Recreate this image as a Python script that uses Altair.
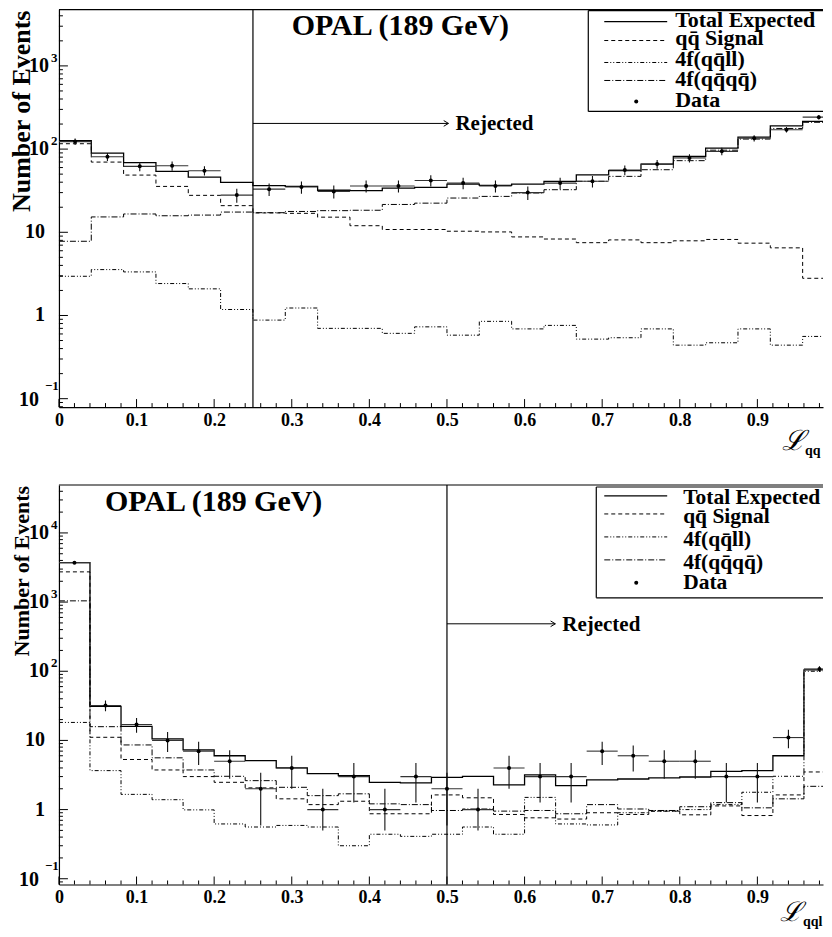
import altair as alt
import numpy as np
import pandas as pd

FONT = "Liberation Serif"
W = 765                # plot width that still fits the 816 px wide page body
XMAX = W / 777.0       # x = 1 would sit 777 px right of x = 0 (cut off by the page)

# ---------------- top panel (L_qqqq), 24 bins ----------------
top_total = [126, 89.5, 68.7, 54, 46, 39.8, 36.4, 35.7, 32, 31.6, 34, 34.7,
             38, 36.6, 38, 41, 49, 55, 66, 81.5, 103, 139, 190, 215]
top_signal = [116, 69.8, 48.7, 35.6, 27.8, 20.9, 17.1, 16.9, 15.2, 12.0, 10.8, 10.8,
              10.3, 10.1, 8.8, 8.3, 7.5, 8.1, 7.5, 7.9, 8.2, 7.4, 6.5, 2.8]
top_qqll = [2.96, 3.56, 3.34, 2.42, 2.09, 1.18, 0.88, 1.23, 0.70, 0.70, 0.61, 0.73,
            0.58, 0.85, 0.69, 0.76, 0.52, 0.54, 0.69, 0.44, 0.47, 0.69, 0.44, 0.56]
top_qqqq = [7.8, 15.3, 16.6, 15.8, 16.1, 17.5, 17.2, 17.8, 18.2, 18.4, 21.6, 22.4,
            25.8, 27.0, 29.7, 32.5, 41, 47, 56.5, 72.6, 97, 132, 177, 210]
top_data = [123, 81, 62, 63, 55, 28, 33, 35, 31, 36, 36, 42,
            39, 36, 30, 39, 41, 56, 66, 78, 94, 135, 171, 242]
top_lo = [112, 72, 54, 55, 48, 22.7, 27.3, 29.1, 25.4, 30, 30, 35.5,
          32.8, 30, 24.5, 32.8, 34.6, 48.5, 57.9, 69.2, 84.3, 123.4, 157.9, 226.4]
top_hi = [134, 90, 70, 71, 62, 33.3, 38.7, 40.9, 36.6, 42, 42, 48.5,
          45.2, 42, 35.5, 45.2, 47.4, 63.5, 74.1, 86.8, 103.7, 146.6, 184.1, 257.6]

# ---------------- bottom panel (L_qqlnu), 25 bins ----------------
bot_total = [3720, 31, 16, 10.5, 7.3, 6.0, 5.1, 4.0, 3.3, 3.1, 2.48, 2.43, 2.93,
             3.03, 2.27, 3.17, 2.22, 2.68, 2.77, 2.87, 2.96, 3.57, 3.66, 6.0, 105]
bot_signal = [2735, 11.1, 5.3, 3.74, 3.0, 2.48, 2.06, 1.43, 1.18, 1.32, 0.87, 0.87, 1.63,
              1.48, 0.85, 0.76, 0.73, 0.9, 0.85, 0.95, 0.84, 1.13, 0.82, 1.63, 3.5]
bot_qqll = [18.2, 3.66, 1.66, 1.39, 0.99, 0.62, 0.56, 0.59, 0.56, 0.30, 0.44, 0.41, 0.44,
            0.56, 0.44, 1.5, 0.62, 0.60, 0.9, 0.95, 1.0, 1.18, 1.78, 3.03, 100]
bot_qqqq = [1042, 15.8, 8.6, 5.6, 3.74, 3.03, 2.62, 2.1, 1.59, 1.69, 1.21, 1.18, 0.97,
            1.02, 0.95, 0.97, 0.87, 1.18, 1.02, 0.97, 1.1, 1.26, 1.06, 1.43, 2.17]
bot_data = [3720, 32, 17, 10, 7, 5, 2, 4, 1, 3, 1, 3, 2,
            1, 4, 3, 3, 7, 6, 5, 5, 3, 3, 11, 108]
bot_lo = [3660, 26.3, 12.9, 6.8, 4.4, 2.8, 0.59, 2.0, 0.5, 1.27, 0.5, 1.27, 0.59,
          0.5, 2.0, 1.27, 1.27, 4.4, 3.55, 2.8, 2.8, 1.27, 1.27, 7.7, 97.6]
bot_hi = [3780, 37.7, 21.1, 13.2, 9.6, 7.2, 3.4, 6.0, 2.0, 4.7, 2.0, 4.7, 3.4,
          2.0, 6.0, 4.7, 4.7, 9.6, 8.45, 7.2, 7.2, 4.7, 4.7, 14.3, 118.4]

CUTS = [0.25, 0.5]
X_LABELS = [0, 0.1, 0.2, 0.3, 0.4, 0.5, 0.6, 0.7, 0.8, 0.9]
X_MINOR = [round(i * 0.02, 2) for i in range(50) if i % 5 != 0]

LEGEND_TEXT = ["Total Expected", "qq\u0304 Signal", "4f(qq\u0304ll)", "4f(qq\u0304qq\u0304)", "Data"]

DASH_SIGNAL = [4, 3]
DASH_QQLL = [4, 2, 1, 2, 1, 2]
DASH_QQQQ = [6, 2, 1, 2]

ONE = pd.DataFrame({"d": [0]})
ZW = "\u200b"


def panel(H, ydom, total, signal, qqll, qqqq, data, lo, hi, cut, cfg):
    xs = alt.Scale(domain=[0, XMAX], nice=False, zero=False)
    ys = alt.Scale(type="log", domain=ydom, nice=False)
    xaxis = alt.Axis(values=X_LABELS,
                     labelExpr="datum.value == 0 ? '0' : format(datum.value, '.1f')",
                     ticks=False, domain=True, domainColor="black", domainWidth=1.2,
                     grid=False, title=None, labelFont=FONT, labelFontSize=18,
                     labelFontWeight="bold", labelColor="black", labelPadding=4,
                     labelFlush=False, labelOverlap=False)
    yaxis = alt.Axis(labels=False, ticks=False, domain=True, domainColor="black",
                     domainWidth=1.2, grid=False, title=None)

    def X(f):
        return alt.X(f, type="quantitative", scale=xs, axis=xaxis)

    def Y(f):
        return alt.Y(f, type="quantitative", scale=ys, axis=yaxis)

    layers = []
    # histograms as steps
    for vals, dash, sw in [(qqll, DASH_QQLL, 1.0), (qqqq, DASH_QQQQ, 1.0),
                           (signal, DASH_SIGNAL, 1.0), (total, None, 1.3)]:
        n = len(vals)
        df = pd.DataFrame({"x": np.linspace(0, 1, n + 1), "y": list(vals) + [vals[-1]]})
        kw = dict(interpolate="step-after", clip=True, color="black", strokeWidth=sw)
        if dash:
            kw["strokeDash"] = dash
        layers.append(alt.Chart(df).mark_line(**kw).encode(x=X("x"), y=Y("y")))

    # data with error bars
    n = len(data)
    idx = np.arange(n)
    ddf = pd.DataFrame({"xc": (idx + 0.5) / n, "x0": idx / n, "x1": (idx + 1) / n,
                        "n": data, "lo": lo, "hi": hi})
    layers.append(alt.Chart(ddf).mark_rule(color="#111", strokeWidth=1.1, clip=True)
                  .encode(x=X("xc"), y=Y("lo"), y2="hi"))
    layers.append(alt.Chart(ddf).mark_rule(color="#333", strokeWidth=1.1, clip=True)
                  .encode(x=X("x0"), x2="x1", y=Y("n")))
    layers.append(alt.Chart(ddf).mark_circle(color="black", size=16, opacity=1, clip=True)
                  .encode(x=X("xc"), y=Y("n")))

    # ticks (inside)
    layers.append(alt.Chart(pd.DataFrame({"v": X_LABELS})).mark_rule(color="black")
                  .encode(x=X("v"), y=alt.value(H), y2=alt.value(H - 8)))
    layers.append(alt.Chart(pd.DataFrame({"v": X_MINOR})).mark_rule(color="black")
                  .encode(x=X("v"), y=alt.value(H), y2=alt.value(H - 4)))
    ymaj = [10.0 ** e for e in range(-1, 6) if ydom[0] <= 10.0 ** e <= ydom[1]]
    ymin = [m * 10.0 ** e for e in range(-2, 6) for m in range(2, 10)
            if ydom[0] <= m * 10.0 ** e <= ydom[1]]
    layers.append(alt.Chart(pd.DataFrame({"v": ymaj})).mark_rule(color="black")
                  .encode(y=Y("v"), x=alt.value(0), x2=alt.value(9)))
    layers.append(alt.Chart(pd.DataFrame({"v": ymin})).mark_rule(color="black")
                  .encode(y=Y("v"), x=alt.value(0), x2=alt.value(4)))

    # y tick labels
    plain = pd.DataFrame({"v": [1, 10], "t": ["1", "10"]})
    layers.append(alt.Chart(plain).mark_text(align="right", baseline="middle", font=FONT,
                                             fontSize=20, fontWeight="bold", color="black")
                  .encode(y=Y("v"), x=alt.value(-14), text="t:N"))
    pw = [v for v in ymaj if v >= 100]
    pdf = pd.DataFrame({"v": pw, "b": ["10"] * len(pw),
                        "e": [str(int(round(np.log10(v)))) for v in pw]})
    layers.append(alt.Chart(pdf).mark_text(align="right", baseline="middle", font=FONT,
                                           fontSize=20, fontWeight="bold", color="black")
                  .encode(y=Y("v"), x=alt.value(-10), text="b:N"))
    layers.append(alt.Chart(pdf).mark_text(align="left", baseline="middle", font=FONT,
                                           fontSize=13, fontWeight="bold", color="black", dy=-8)
                  .encode(y=Y("v"), x=alt.value(-8), text="e:N"))
    neg = pd.DataFrame({"v": [0.1], "b": ["10"], "e": ["\u22121"]})
    layers.append(alt.Chart(neg).mark_text(align="right", baseline="middle", font=FONT,
                                           fontSize=20, fontWeight="bold", color="black", dy=1)
                  .encode(y=Y("v"), x=alt.value(-20), text="b:N"))
    layers.append(alt.Chart(neg).mark_text(align="left", baseline="middle", font=FONT,
                                           fontSize=13, fontWeight="bold", color="black", dy=-13)
                  .encode(y=Y("v"), x=alt.value(-14), text="e:N"))

    # frame top + left anchor (keeps the plot 50 px from the left)
    layers.append(alt.Chart(ONE).mark_rule(color="black", strokeWidth=1.2)
                  .encode(x=alt.value(0), x2=alt.value(W), y=alt.value(0)))
    layers.append(alt.Chart(ONE).mark_rule(color="white", strokeWidth=1)
                  .encode(x=alt.value(-50), y=alt.value(0), y2=alt.value(5)))

    # cut line and "Rejected" arrow
    layers.append(alt.Chart(ONE).mark_rule(color="black", strokeWidth=1.2)
                  .encode(x=alt.datum(cut), y=alt.value(0), y2=alt.value(H)))
    layers.append(alt.Chart(ONE).mark_rule(color="black", strokeWidth=1)
                  .encode(x=alt.datum(cut), x2=alt.value(cfg["tip"]), y=alt.value(cfg["ay"])))
    layers.append(alt.Chart(ONE).mark_point(shape="M-1,-0.6L0,0L-1,0.6", filled=False,
                                            color="black", size=90, strokeWidth=1, opacity=1)
                  .encode(x=alt.value(cfg["tip"]), y=alt.value(cfg["ay"])))
    layers.append(alt.Chart(ONE).mark_text(align="left", baseline="alphabetic", font=FONT,
                                           fontSize=21, fontWeight="bold", color="black")
                  .encode(x=alt.value(cfg["tip"] + 7), y=alt.value(cfg["ay"] + 7),
                          text=alt.value("Rejected")))

    # experiment title
    layers.append(alt.Chart(ONE).mark_text(align="left", baseline="alphabetic", font=FONT,
                                           fontSize=30, fontWeight="bold", color="black")
                  .encode(x=alt.value(cfg["tx"]), y=alt.value(cfg["ty"]),
                          text=alt.value("OPAL (189 GeV)")))

    # y axis title
    layers.append(alt.Chart(ONE).mark_text(align="right", baseline="middle", angle=270,
                                           font=FONT, fontSize=cfg["yts"], fontWeight="bold",
                                           color="black")
                  .encode(x=alt.value(-37), y=alt.value(1), text=alt.value("Number of Events")))

    # x axis title (script L with subscript), cut at the page edge
    layers.append(alt.Chart(ONE).mark_text(align="left", baseline="alphabetic",
                                           font="DejaVu Serif", fontStyle="italic",
                                           fontSize=cfg["ls"], color="black")
                  .encode(x=alt.value(cfg["lx"]), y=alt.value(cfg["ly"]), text=alt.value("\u2112")))
    layers.append(alt.Chart(ONE).mark_text(align="left", baseline="alphabetic", font=FONT,
                                           fontSize=14, fontWeight="bold", color="black",
                                           limit=W - cfg["lx"] - 23, ellipsis=ZW)
                  .encode(x=alt.value(cfg["lx"] + 23), y=alt.value(cfg["ly"] + 5),
                          text=alt.value(cfg["sub"])))

    # legend box (its right side is cut by the page edge)
    lx0, ly0, ly1 = cfg["box"]
    layers.append(alt.Chart(ONE).mark_rect(fill="white")
                  .encode(x=alt.value(lx0), x2=alt.value(W), y=alt.value(ly0), y2=alt.value(ly1)))
    layers.append(alt.Chart(ONE).mark_rule(color="black", strokeWidth=1.2)
                  .encode(x=alt.value(lx0), x2=alt.value(W), y=alt.value(ly0)))
    layers.append(alt.Chart(ONE).mark_rule(color="black", strokeWidth=1.2)
                  .encode(x=alt.value(lx0), x2=alt.value(W), y=alt.value(ly1)))
    layers.append(alt.Chart(ONE).mark_rule(color="black", strokeWidth=1.2)
                  .encode(x=alt.value(lx0), y=alt.value(ly0), y2=alt.value(ly1)))
    ys_lines = cfg["lines"]
    for yy, dash, sw in zip(ys_lines[:4], [None, DASH_SIGNAL, DASH_QQLL, DASH_QQQQ],
                            [1.3, 1, 1, 1]):
        kw = dict(color="black", strokeWidth=sw)
        if dash:
            kw["strokeDash"] = dash
        layers.append(alt.Chart(ONE).mark_rule(**kw)
                      .encode(x=alt.value(546), x2=alt.value(609), y=alt.value(yy)))
    layers.append(alt.Chart(ONE).mark_circle(color="black", size=16, opacity=1)
                  .encode(x=alt.value(578), y=alt.value(ys_lines[4])))
    for txt, yb in zip(LEGEND_TEXT, cfg["base"]):
        layers.append(alt.Chart(ONE).mark_text(align="left", baseline="alphabetic", font=FONT,
                                               fontSize=cfg["lfs"], fontWeight="bold",
                                               color="black", limit=W - cfg["textx"] - 1,
                                               ellipsis=ZW)
                      .encode(x=alt.value(cfg["textx"]), y=alt.value(yb), text=alt.value(txt)))

    return alt.layer(*layers).properties(width=W, height=H)


top = panel(398, [0.07927, 4755], top_total, top_signal, top_qqll, top_qqqq,
            top_data, top_lo, top_hi, CUTS[0],
            dict(tip=390, ay=114, tx=233, ty=25, yts=26, ls=28, lx=724, ly=441,
                 sub="qqqq", box=(530, 1, 102), lines=[12, 31, 53, 71, 92],
                 base=[17, 35, 57, 77, 98], textx=617, lfs=22))

bottom = panel(400, [0.0826, 49340], bot_total, bot_signal, bot_qqll, bot_qqqq,
               bot_data, bot_lo, bot_hi, CUTS[1],
               dict(tip=497, ay=139, tx=46, ty=26, yts=22, ls=27, lx=722, ly=437,
                    sub="qql\u03bd", box=(538, 2, 113), lines=[11, 29, 52, 75, 98],
                    base=[19, 38, 61, 84, 104], textx=625, lfs=21.5))

chart = (alt.vconcat(top, bottom, spacing=78, bounds="flush")
         .properties(padding=0)
         .configure_view(stroke=None))

chart.save("out.html", embed_options={"renderer": "svg", "actions": False})
